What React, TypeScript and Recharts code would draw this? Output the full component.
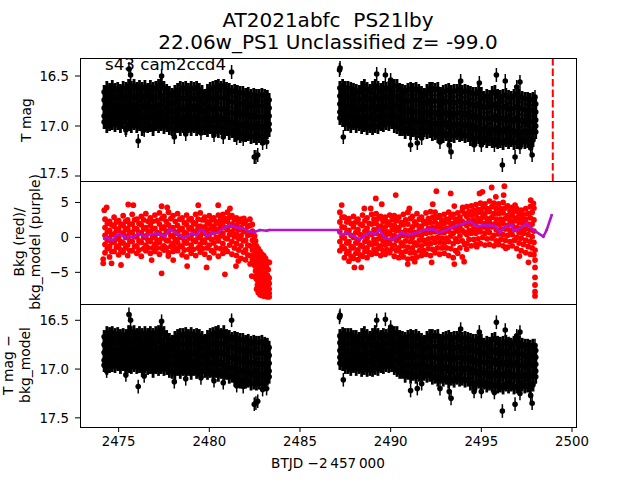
import { ScatterChart, Scatter, XAxis, YAxis, ErrorBar, ReferenceLine } from 'recharts';

const FONT = '"DejaVu Sans", sans-serif';
const PURPLE = '#b512cc';

const timeDomain = [2472.87, 2500.22];
const timeTicks = [2475, 2480, 2485, 2490, 2495, 2500];
const tMagTicks = [16.5, 17, 17.5];
const bkgTicks = [-5, 0, 5];
const peakTime = 2498.94;
const magErr = 0.07;

// each row: time, then the magnitudes seen at that time, brightest first
const tMagRows = [
  [2474.2,16.66,16.74,16.82,16.9,16.96],[2474.35,16.62,16.71,16.8,16.9,17.0],[2474.5,16.64,16.74,16.83,16.92,16.98],
  [2474.65,16.61,16.7,16.79,16.88,16.97],[2474.8,16.64,16.73,16.83,16.92,16.99],[2474.95,16.63,16.71,16.8,16.89,16.97],
  [2475.1,16.65,16.74,16.84,16.93,17.0],[2475.25,16.62,16.7,16.79,16.88,16.96],[2475.4,16.63,16.73,16.83,16.92,17.02],
  [2475.55,16.6,16.7,16.79,16.88,16.98],[2475.7,16.62,16.72,16.82,16.91,17.0],[2475.85,16.6,16.7,16.79,16.88,16.97],
  [2476.0,16.63,16.73,16.83,16.92,17.0],[2476.15,16.61,16.7,16.8,16.89,16.98],[2476.3,16.63,16.73,16.83,16.93,17.03],
  [2476.45,16.61,16.7,16.79,16.89,16.98],[2476.6,16.64,16.73,16.83,16.92,17.0],[2476.75,16.61,16.7,16.8,16.89,16.99],
  [2476.9,16.63,16.73,16.83,16.93,17.03],[2477.05,16.62,16.71,16.8,16.89,16.98],[2477.2,16.6,16.71,16.83,16.92,17.0],
  [2477.35,16.58,16.69,16.79,16.89,16.98],[2477.5,16.62,16.74,16.84,16.93,17.01],[2477.65,16.65,16.74,16.82,16.9,16.99],
  [2477.8,16.67,16.76,16.85,16.94,17.02],[2477.95,16.69,16.77,16.85,16.93,17.03],[2478.1,16.66,16.76,16.86,16.96,17.04],
  [2478.25,16.64,16.73,16.82,16.91,17.0],[2478.4,16.62,16.73,16.84,16.94,17.03],[2478.55,16.63,16.72,16.82,16.91,17.0],
  [2478.7,16.62,16.73,16.84,16.94,17.03],[2478.85,16.64,16.73,16.82,16.91,17.0],[2479.0,16.62,16.73,16.84,16.94,17.03],
  [2479.15,16.63,16.72,16.81,16.91,17.0],[2479.3,16.62,16.73,16.84,16.94,17.03],[2479.45,16.64,16.73,16.82,16.92,17.01],
  [2479.6,16.66,16.76,16.86,16.95,17.02],[2479.75,16.7,16.77,16.85,16.93,17.02],[2479.9,16.65,16.75,16.85,16.95,17.04],
  [2480.05,16.63,16.72,16.82,16.92,17.01],[2480.2,16.62,16.73,16.84,16.95,17.05],[2480.35,16.61,16.71,16.81,16.91,17.01],
  [2480.5,16.6,16.71,16.83,16.95,17.05],[2480.65,16.62,16.72,16.82,16.92,17.02],[2480.8,16.6,16.72,16.84,16.96,17.06],
  [2480.95,16.63,16.73,16.83,16.93,17.03],[2481.1,16.64,16.75,16.87,16.98,17.07],[2481.25,16.66,16.76,16.86,16.96,17.05],
  [2481.4,16.65,16.76,16.88,16.99,17.09],[2481.55,16.66,16.76,16.86,16.97,17.06],[2481.7,16.67,16.78,16.89,17.0,17.1],
  [2481.85,16.67,16.77,16.87,16.98,17.08],[2482.0,16.69,16.8,16.9,17.0,17.09],[2482.15,16.68,16.78,16.88,16.98,17.08],
  [2482.3,16.7,16.8,16.91,17.02,17.11],[2482.45,16.69,16.79,16.89,16.99,17.1],[2482.6,16.7,16.8,16.91,17.02,17.12],
  [2482.75,16.7,16.8,16.9,17.0,17.1],[2482.9,16.69,16.8,16.91,17.02,17.12],[2483.05,16.7,16.8,16.9,17.0,17.1],
  [2483.2,16.71,16.8,16.89,16.98,17.06],[2483.3,16.74,16.82,16.9,16.98,17.04],
  [2487.2,16.62,16.7,16.78,16.86,16.92],[2487.35,16.6,16.69,16.78,16.86,16.94],[2487.5,16.62,16.71,16.81,16.9,16.98],
  [2487.65,16.62,16.71,16.8,16.89,16.98],[2487.8,16.63,16.73,16.83,16.92,17.0],[2487.95,16.64,16.73,16.82,16.91,16.97],
  [2488.1,16.65,16.74,16.84,16.93,17.0],[2488.25,16.66,16.74,16.82,16.91,16.98],[2488.4,16.62,16.73,16.84,16.94,17.01],
  [2488.55,16.6,16.7,16.8,16.9,16.99],[2488.7,16.63,16.73,16.83,16.93,17.02],[2488.85,16.65,16.73,16.82,16.91,17.0],
  [2489.0,16.62,16.73,16.83,16.93,17.02],[2489.15,16.6,16.7,16.8,16.9,17.0],[2489.3,16.62,16.73,16.84,16.93,17.01],
  [2489.45,16.64,16.73,16.81,16.9,16.98],[2489.6,16.62,16.72,16.82,16.91,16.99],[2489.75,16.63,16.71,16.8,16.89,16.97],
  [2489.9,16.62,16.72,16.81,16.9,16.98],[2490.05,16.62,16.7,16.79,16.88,16.96],[2490.2,16.6,16.71,16.81,16.91,17.0],
  [2490.35,16.6,16.7,16.8,16.9,17.01],[2490.5,16.64,16.74,16.84,16.94,17.03],[2490.65,16.65,16.74,16.83,16.93,17.03],
  [2490.8,16.66,16.76,16.86,16.96,17.06],[2490.95,16.64,16.74,16.84,16.94,17.03],[2491.1,16.63,16.75,16.87,16.98,17.07],
  [2491.25,16.64,16.74,16.84,16.94,17.04],[2491.4,16.63,16.74,16.86,16.97,17.07],[2491.55,16.65,16.75,16.85,16.95,17.05],
  [2491.7,16.67,16.77,16.87,16.97,17.07],[2491.85,16.69,16.77,16.86,16.95,17.04],[2492.0,16.65,16.76,16.87,16.97,17.06],
  [2492.15,16.63,16.74,16.85,16.96,17.05],[2492.3,16.63,16.75,16.87,16.98,17.08],[2492.45,16.64,16.75,16.86,16.97,17.07],
  [2492.6,16.63,16.75,16.88,17.0,17.1],[2492.75,16.68,16.78,16.87,16.97,17.07],[2492.9,16.66,16.77,16.88,16.99,17.1],
  [2493.05,16.65,16.75,16.86,16.97,17.08],[2493.2,16.64,16.76,16.89,17.01,17.12],[2493.35,16.66,16.76,16.87,16.98,17.09],
  [2493.5,16.65,16.77,16.89,17.0,17.1],[2493.65,16.65,16.76,16.87,16.98,17.07],[2493.8,16.63,16.75,16.87,16.99,17.09],
  [2493.95,16.66,16.77,16.87,16.98,17.08],[2494.1,16.65,16.77,16.89,17.0,17.1],[2494.25,16.66,16.76,16.87,16.98,17.09],
  [2494.4,16.67,16.79,16.91,17.03,17.13],[2494.55,16.68,16.78,16.89,17.0,17.12],[2494.7,16.68,16.8,16.92,17.03,17.13],
  [2494.85,16.66,16.78,16.9,17.01,17.11],[2495.0,16.68,16.8,16.92,17.04,17.14],[2495.15,16.72,16.82,16.92,17.02,17.12],
  [2495.3,16.7,16.81,16.93,17.05,17.15],[2495.45,16.71,16.81,16.92,17.03,17.13],[2495.6,16.67,16.8,16.93,17.05,17.15],
  [2495.75,16.66,16.78,16.9,17.03,17.14],[2495.9,16.7,16.82,16.94,17.06,17.16],[2496.05,16.71,16.81,16.92,17.04,17.15],
  [2496.2,16.7,16.82,16.94,17.06,17.17],[2496.35,16.69,16.8,16.92,17.03,17.14],[2496.5,16.71,16.83,16.95,17.06,17.16],
  [2496.65,16.72,16.83,16.93,17.04,17.14],[2496.8,16.7,16.82,16.95,17.07,17.17],[2496.95,16.68,16.8,16.92,17.05,17.16],
  [2497.1,16.7,16.82,16.95,17.07,17.16],[2497.25,16.72,16.83,16.94,17.05,17.14],[2497.4,16.73,16.84,16.96,17.07,17.16],
  [2497.55,16.73,16.84,16.94,17.05,17.15],[2497.7,16.74,16.85,16.96,17.07,17.17],[2497.85,16.73,16.84,16.95,17.05,17.14],
  [2498.0,16.78,16.86,16.94,17.0,17.06],
];

const tMagOutliers = [
  [2475.57,16.43],[2475.66,16.49],[2477.37,16.5],[2481.23,16.46],[2474.34,17.0],[2476.08,17.15],[2476.41,17.04],[2475.4,17.04],
  [2478.07,17.11],[2478.7,17.08],[2479.54,17.07],[2480.26,17.09],[2480.77,17.11],[2481.51,17.12],[2481.87,17.13],[2482.48,17.31],
  [2482.57,17.31],[2482.67,17.29],[2483.16,17.16],[2482.94,17.17],[2487.21,16.42],[2487.18,16.44],[2487.39,17.11],[2491.1,17.19],
  [2491.47,17.17],[2491.71,17.12],[2492.72,17.16],[2493.23,17.19],[2493.33,17.26],[2494.6,17.19],[2495.0,17.19],[2495.72,17.19],
  [2496.16,17.39],[2496.86,17.31],[2497.13,17.21],[2497.8,17.29],[2497.72,17.22],[2489.23,16.48],[2489.71,16.49],[2490.0,16.54],
  [2493.86,16.55],[2494.89,16.57],[2495.83,16.49],[2496.32,16.55],[2497.13,16.56],[2496.95,16.61],[2497.96,16.71],
];

const correctedRows = [
  [2474.2,16.67,16.75,16.83,16.91,16.96],[2474.35,16.63,16.72,16.81,16.9,16.99],[2474.5,16.64,16.74,16.83,16.91,16.97],
  [2474.65,16.63,16.71,16.8,16.88,16.96],[2474.8,16.65,16.73,16.82,16.9,16.97],[2474.95,16.64,16.72,16.8,16.88,16.95],
  [2475.1,16.66,16.75,16.84,16.92,16.98],[2475.25,16.65,16.72,16.8,16.88,16.95],[2475.4,16.66,16.75,16.84,16.92,17.0],
  [2475.55,16.62,16.71,16.8,16.88,16.97],[2475.7,16.63,16.73,16.82,16.9,16.98],[2475.85,16.62,16.71,16.8,16.88,16.96],
  [2476.0,16.65,16.74,16.83,16.91,16.98],[2476.15,16.63,16.72,16.81,16.89,16.97],[2476.3,16.65,16.74,16.83,16.92,17.01],
  [2476.45,16.63,16.72,16.8,16.89,16.97],[2476.6,16.65,16.74,16.83,16.91,16.99],[2476.75,16.63,16.72,16.81,16.89,16.98],
  [2476.9,16.65,16.74,16.83,16.92,17.02],[2477.05,16.63,16.72,16.81,16.89,16.98],[2477.2,16.62,16.72,16.83,16.92,17.0],
  [2477.35,16.6,16.7,16.8,16.89,16.98],[2477.5,16.63,16.75,16.85,16.93,17.0],[2477.65,16.67,16.76,16.84,16.91,16.99],
  [2477.8,16.7,16.78,16.86,16.94,17.02],[2477.95,16.72,16.79,16.86,16.94,17.03],[2478.1,16.68,16.77,16.86,16.95,17.04],
  [2478.25,16.66,16.74,16.83,16.91,17.0],[2478.4,16.65,16.75,16.85,16.94,17.03],[2478.55,16.65,16.74,16.83,16.91,17.0],
  [2478.7,16.64,16.75,16.85,16.94,17.03],[2478.85,16.66,16.75,16.83,16.92,17.0],[2479.0,16.64,16.75,16.85,16.95,17.04],
  [2479.15,16.66,16.74,16.83,16.92,17.0],[2479.3,16.65,16.75,16.85,16.94,17.03],[2479.45,16.66,16.75,16.84,16.93,17.01],
  [2479.6,16.68,16.78,16.87,16.95,17.02],[2479.75,16.71,16.79,16.86,16.94,17.02],[2479.9,16.67,16.77,16.86,16.95,17.04],
  [2480.05,16.65,16.74,16.83,16.93,17.02],[2480.2,16.64,16.75,16.85,16.95,17.05],[2480.35,16.63,16.73,16.83,16.92,17.02],
  [2480.5,16.62,16.73,16.84,16.95,17.06],[2480.65,16.65,16.74,16.83,16.93,17.03],[2480.8,16.62,16.74,16.85,16.97,17.07],
  [2480.95,16.66,16.75,16.85,16.95,17.04],[2481.1,16.67,16.77,16.88,16.99,17.08],[2481.25,16.69,16.78,16.88,16.98,17.07],
  [2481.4,16.68,16.79,16.9,17.01,17.11],[2481.55,16.69,16.79,16.89,17.0,17.09],[2481.7,16.7,16.81,16.92,17.03,17.13],
  [2481.85,16.7,16.8,16.9,17.01,17.11],[2482.0,16.72,16.83,16.93,17.03,17.13],[2482.15,16.71,16.81,16.92,17.02,17.12],
  [2482.3,16.73,16.83,16.94,17.05,17.15],[2482.45,16.72,16.82,16.93,17.03,17.14],[2482.6,16.73,16.84,16.95,17.06,17.15],
  [2482.75,16.73,16.84,16.94,17.04,17.14],[2482.9,16.72,16.83,16.95,17.06,17.15],[2483.05,16.74,16.84,16.94,17.04,17.14],
  [2483.2,16.75,16.84,16.93,17.02,17.1],[2483.3,16.78,16.86,16.94,17.02,17.08],
  [2487.2,16.66,16.73,16.81,16.88,16.94],[2487.35,16.64,16.72,16.8,16.88,16.95],[2487.5,16.65,16.74,16.83,16.91,16.98],
  [2487.65,16.65,16.73,16.82,16.9,16.98],[2487.8,16.65,16.74,16.84,16.92,17.0],[2487.95,16.67,16.75,16.83,16.91,16.97],
  [2488.1,16.67,16.76,16.85,16.93,17.0],[2488.25,16.69,16.76,16.84,16.91,16.98],[2488.4,16.65,16.75,16.85,16.94,17.01],
  [2488.55,16.63,16.73,16.82,16.91,16.99],[2488.7,16.66,16.75,16.84,16.93,17.01],[2488.85,16.68,16.75,16.83,16.91,17.0],
  [2489.0,16.65,16.75,16.84,16.93,17.01],[2489.15,16.62,16.72,16.81,16.9,16.99],[2489.3,16.65,16.75,16.84,16.92,17.0],
  [2489.45,16.67,16.75,16.82,16.89,16.97],[2489.6,16.65,16.74,16.83,16.91,16.98],[2489.75,16.66,16.73,16.81,16.88,16.96],
  [2489.9,16.65,16.74,16.82,16.9,16.97],[2490.05,16.64,16.72,16.8,16.88,16.96],[2490.2,16.63,16.73,16.82,16.91,16.99],
  [2490.35,16.63,16.72,16.81,16.91,17.01],[2490.5,16.67,16.76,16.85,16.94,17.03],[2490.65,16.68,16.76,16.84,16.93,17.03],
  [2490.8,16.69,16.78,16.87,16.97,17.07],[2490.95,16.67,16.76,16.85,16.95,17.04],[2491.1,16.66,16.77,16.88,16.98,17.08],
  [2491.25,16.67,16.76,16.85,16.95,17.05],[2491.4,16.66,16.76,16.87,16.98,17.08],[2491.55,16.68,16.77,16.86,16.96,17.06],
  [2491.7,16.7,16.79,16.88,16.98,17.08],[2491.85,16.72,16.79,16.87,16.96,17.05],[2492.0,16.68,16.78,16.88,16.98,17.07],
  [2492.15,16.66,16.76,16.86,16.97,17.06],[2492.3,16.66,16.77,16.88,16.99,17.09],[2492.45,16.67,16.77,16.87,16.98,17.08],
  [2492.6,16.66,16.77,16.89,17.01,17.11],[2492.75,16.71,16.8,16.88,16.98,17.08],[2492.9,16.69,16.79,16.89,17.0,17.11],
  [2493.05,16.68,16.77,16.87,16.98,17.09],[2493.2,16.67,16.78,16.9,17.02,17.13],[2493.35,16.69,16.78,16.88,16.99,17.1],
  [2493.5,16.68,16.79,16.9,17.01,17.12],[2493.65,16.68,16.78,16.88,16.99,17.09],[2493.8,16.66,16.77,16.88,17.0,17.11],
  [2493.95,16.69,16.79,16.88,16.99,17.1],[2494.1,16.68,16.79,16.9,17.01,17.12],[2494.25,16.69,16.78,16.88,16.99,17.11],
  [2494.4,16.7,16.81,16.92,17.04,17.15],[2494.55,16.71,16.8,16.9,17.01,17.14],[2494.7,16.71,16.82,16.93,17.04,17.15],
  [2494.85,16.69,16.8,16.91,17.02,17.13],[2495.0,16.71,16.82,16.93,17.05,17.16],[2495.15,16.75,16.84,16.93,17.03,17.14],
  [2495.3,16.73,16.83,16.94,17.06,17.17],[2495.45,16.74,16.83,16.93,17.04,17.15],[2495.6,16.7,16.82,16.94,17.06,17.17],
  [2495.75,16.69,16.8,16.91,17.04,17.16],[2495.9,16.73,16.84,16.95,17.07,17.18],[2496.05,16.74,16.83,16.93,17.05,17.17],
  [2496.2,16.73,16.84,16.95,17.07,17.19],[2496.35,16.72,16.82,16.93,17.04,17.16],[2496.5,16.74,16.85,16.96,17.07,17.18],
  [2496.65,16.75,16.85,16.94,17.05,17.16],[2496.8,16.73,16.84,16.96,17.08,17.19],[2496.95,16.71,16.82,16.93,17.06,17.18],
  [2497.1,16.73,16.84,16.96,17.08,17.18],[2497.25,16.75,16.85,16.95,17.06,17.16],[2497.4,16.76,16.86,16.97,17.08,17.18],
  [2497.55,16.76,16.86,16.95,17.06,17.17],[2497.7,16.77,16.87,16.97,17.08,17.19],[2497.85,16.76,16.86,16.96,17.06,17.16],
  [2498.0,16.81,16.88,16.95,17.02,17.08],
];

const correctedOutliers = [
  [2475.57,16.44],[2475.66,16.5],[2477.37,16.51],[2481.23,16.5],[2474.34,17.02],[2476.08,17.18],[2476.41,17.07],[2475.4,17.06],
  [2478.07,17.13],[2478.7,17.1],[2479.54,17.09],[2480.26,17.12],[2480.77,17.14],[2481.51,17.17],[2481.87,17.18],[2482.48,17.36],
  [2482.57,17.35],[2482.67,17.33],[2483.16,17.2],[2482.94,17.21],[2487.21,16.45],[2487.18,16.47],[2487.39,17.11],[2491.1,17.22],
  [2491.47,17.2],[2491.71,17.15],[2492.72,17.2],[2493.23,17.23],[2493.33,17.3],[2494.6,17.23],[2495.0,17.23],[2495.72,17.24],
  [2496.16,17.43],[2496.86,17.36],[2497.13,17.25],[2497.8,17.35],[2497.72,17.27],[2489.23,16.5],[2489.71,16.49],[2490.0,16.57],
  [2493.86,16.59],[2494.89,16.62],[2495.83,16.52],[2496.32,16.6],[2497.13,16.62],[2496.95,16.66],[2497.96,16.76],
];

const bkgRows = [
  [2474.25,2.6,1.4,0.3,-1.0,-2.2],[2474.5,2.3,1.0,-0.1,-1.3,-2.8],[2474.75,2.9,1.6,0.5,-0.7,-2.0],[2475.0,2.4,1.2,0.0,-1.2,-2.5],
  [2475.25,3.1,1.7,0.6,-0.8,-2.1],[2475.5,2.5,1.3,0.2,-1.1,-2.6],[2475.75,3.3,1.9,0.7,-0.6,-1.9],[2476.0,2.6,1.2,0.1,-1.2,-2.3],
  [2476.25,3.0,1.8,0.6,-0.7,-2.7],[2476.5,3.4,1.4,0.2,-1.1,-1.9],[2476.75,2.8,1.7,0.7,-0.6,-2.3],[2477.0,3.2,1.3,0.1,-1.0,-2.0],
  [2477.25,3.5,1.9,0.6,-0.7,-2.4],[2477.5,3.0,1.5,0.3,-1.2,-1.8],[2477.75,3.6,1.8,0.8,-0.5,-2.2],[2478.0,3.1,1.4,0.2,-0.9,-2.0],
  [2478.25,3.4,1.7,0.6,-0.7,-1.9],[2478.5,2.8,1.3,0.1,-1.2,-2.5],[2478.75,3.2,1.8,0.5,-0.8,-2.8],[2479.0,2.7,1.4,0.3,-1.1,-2.3],
  [2479.25,3.3,1.9,0.7,-0.6,-2.6],[2479.5,3.5,1.6,0.2,-1.0,-2.1],[2479.75,2.9,1.5,0.6,-0.7,-2.4],[2480.0,3.1,1.9,0.4,-1.1,-2.9],
  [2480.25,2.8,1.6,0.7,-0.8,-2.2],[2480.5,3.2,2.0,0.9,-0.5,-2.7],[2480.75,3.3,2.1,0.6,-0.9,-2.3],[2481.0,3.6,2.3,1.1,-0.2,-2.0],
  [2481.25,3.1,1.9,0.8,-0.6,-2.4],[2481.5,2.8,1.7,0.5,-0.9,-2.6],[2481.75,2.6,1.4,0.2,-1.2,-3.0],[2482.0,2.3,1.0,-0.4,-1.8,-3.2],
  [2482.25,1.7,0.4,-1.2,-2.6,-3.8],[2482.5,0.2,-1.0,-2.5,-4.0,-5.6],[2482.6,-1.2,-2.6,-4.4,-6.0,-7.4],[2482.7,-1.6,-3.2,-5.0,-6.6,-7.9],
  [2482.8,-2.0,-3.8,-5.4,-7.0,-8.2],[2482.9,-2.4,-4.0,-5.8,-7.2,-8.3],[2483.0,-2.6,-4.4,-6.0,-7.4,-8.4],[2483.1,-3.0,-4.8,-6.3,-7.6,-8.4],
  [2483.2,-3.5,-5.4,-6.7,-7.8,-8.5],[2483.3,-5.8,-6.6,-7.4,-8.0,-8.5],
  [2487.2,3.6,2.2,0.8,-0.6,-1.9],[2487.45,2.9,1.4,-0.1,-1.6,-2.9],[2487.7,2.7,1.0,-0.6,-2.0,-3.4],[2487.95,3.0,1.5,0.0,-1.5,-3.0],
  [2488.2,2.6,1.1,-0.4,-1.8,-3.2],[2488.45,3.2,1.7,0.2,-1.3,-2.7],[2488.7,2.8,1.3,-0.1,-1.5,-2.9],[2488.95,3.3,1.9,0.4,-1.0,-2.4],
  [2489.2,3.4,2.0,0.6,-0.9,-2.3],[2489.45,3.0,1.6,0.2,-1.2,-2.6],[2489.7,2.9,1.5,0.2,-1.1,-2.4],[2489.95,3.2,1.8,0.5,-0.9,-2.2],
  [2490.2,3.1,1.7,0.3,-1.1,-2.7],[2490.45,2.9,1.4,0.0,-1.5,-2.9],[2490.7,3.3,1.8,0.3,-1.2,-2.8],[2490.95,3.6,1.9,0.2,-1.4,-3.1],
  [2491.2,3.0,1.5,0.0,-1.5,-3.0],[2491.45,3.4,1.8,0.4,-1.1,-2.8],[2491.7,2.9,1.6,0.3,-1.2,-2.6],[2491.95,3.5,2.0,0.6,-0.9,-2.4],
  [2492.2,3.7,2.1,0.7,-0.9,-2.6],[2492.45,3.6,2.2,0.8,-0.7,-2.2],[2492.7,3.1,1.9,0.7,-0.7,-2.4],[2492.95,3.3,2.0,0.7,-0.8,-2.3],
  [2493.2,3.6,2.2,0.9,-0.6,-2.6],[2493.45,3.3,2.0,0.6,-0.9,-2.9],[2493.7,3.5,2.2,0.9,-0.6,-2.3],[2493.95,3.8,2.3,1.0,-0.5,-2.8],
  [2494.2,4.4,3.0,1.7,0.4,-0.9],[2494.45,4.5,3.2,1.9,0.6,-1.2],[2494.7,4.7,3.3,2.0,0.6,-1.0],[2494.95,4.9,3.6,2.3,0.8,-0.9],
  [2495.2,4.8,3.4,2.0,0.6,-1.1],[2495.45,5.2,3.7,2.2,0.7,-1.0],[2495.7,4.9,3.4,1.9,0.3,-1.2],[2495.95,4.8,3.4,1.9,0.5,-1.0],
  [2496.2,5.0,3.5,2.0,0.4,-1.2],[2496.45,4.5,3.1,1.7,0.3,-1.4],[2496.7,4.3,3.1,1.8,0.4,-1.2],[2496.95,4.1,2.8,1.4,0.0,-1.6],
  [2497.2,3.9,2.7,1.3,-0.1,-1.9],[2497.45,4.1,2.6,1.2,-0.4,-2.2],[2497.7,4.4,2.8,1.1,-0.6,-2.4],[2497.9,4.2,2.5,0.9,-0.7,-2.5],
];

// points that lie between the rows above
const bkgInnerRows = [
  [2474.38,2.0,0.8,-0.4,-1.6],[2474.62,1.8,0.4,-0.7,-2.0],[2474.88,2.2,1.0,-0.2,-1.4],[2475.12,1.9,0.6,-0.6,-1.8],
  [2475.38,2.3,1.1,0.0,-1.5],[2475.62,1.9,0.7,-0.5,-1.9],[2475.88,2.5,1.3,0.1,-1.3],[2476.12,2.0,0.7,-0.5,-1.8],
  [2476.38,2.5,1.2,0.0,-1.6],[2476.62,2.3,0.9,-0.4,-1.5],[2476.88,2.3,1.2,0.0,-1.5],[2477.12,2.4,0.7,-0.4,-1.5],
  [2477.38,2.7,1.3,-0.1,-1.5],[2477.62,2.3,0.9,-0.4,-1.5],[2477.88,2.7,1.3,0.2,-1.3],[2478.12,2.3,0.8,-0.3,-1.5],
  [2478.38,2.6,1.1,0.0,-1.3],[2478.62,2.1,0.7,-0.5,-1.8],[2478.88,2.5,1.2,-0.1,-1.7],[2479.12,2.1,0.9,-0.4,-1.7],
  [2479.38,2.6,1.3,0.0,-1.5],[2479.62,2.5,0.9,-0.4,-1.6],[2479.88,2.2,1.1,0.0,-1.5],[2480.12,2.5,1.2,-0.3,-1.9],
  [2480.38,2.2,1.1,0.0,-1.5],[2480.62,2.6,1.5,0.2,-1.6],[2480.88,2.7,1.4,-0.1,-1.6],[2481.12,2.9,1.7,0.4,-1.1],
  [2481.38,2.5,1.3,0.1,-1.5],[2481.62,2.2,1.1,-0.2,-1.8],[2481.88,2.0,0.8,-0.5,-2.1],[2482.12,1.6,0.3,-1.1,-2.5],
  [2482.38,0.9,-0.4,-1.8,-3.2],[2482.55,-0.5,-1.8,-3.4,-4.8],[2482.65,-1.9,-3.4,-5.2,-6.8],[2482.75,-2.4,-4.2,-5.8,-7.3],
  [2482.85,-2.9,-4.6,-6.2,-7.6],[2482.95,-3.2,-5.0,-6.6,-7.8],[2483.05,-3.6,-5.2,-6.8,-8.0],[2483.15,-4.2,-5.7,-7.0,-8.1],
  [2483.25,-4.6,-6.0,-7.2,-8.2],
  [2487.32,2.9,1.5,0.1,-1.3],[2487.58,2.2,0.7,-0.8,-2.3],[2487.82,2.0,0.3,-1.3,-2.7],[2488.08,2.2,0.7,-0.8,-2.3],
  [2488.32,1.9,0.4,-1.1,-2.5],[2488.58,2.4,0.9,-0.6,-2.0],[2488.82,2.0,0.6,-0.8,-2.2],[2489.08,2.6,1.1,-0.3,-1.7],
  [2489.32,2.7,1.3,-0.2,-1.6],[2489.58,2.3,0.9,-0.5,-1.9],[2489.82,2.2,0.8,-0.5,-1.8],[2490.08,2.5,1.1,-0.2,-1.6],
  [2490.32,2.4,1.0,-0.4,-1.9],[2490.58,2.1,0.7,-0.8,-2.2],[2490.82,2.5,1.0,-0.5,-2.0],[2491.08,2.7,1.0,-0.6,-2.2],
  [2491.32,2.2,0.7,-0.8,-2.2],[2491.58,2.6,1.1,-0.4,-1.9],[2491.82,2.3,0.9,-0.4,-1.9],[2492.08,2.7,1.3,-0.2,-1.6],
  [2492.32,2.9,1.4,-0.1,-1.7],[2492.58,2.9,1.5,0.0,-1.5],[2492.82,2.5,1.3,-0.1,-1.5],[2493.08,2.6,1.3,-0.1,-1.5],
  [2493.32,2.9,1.5,0.2,-1.6],[2493.58,2.6,1.3,-0.2,-1.9],[2493.82,2.9,1.5,0.2,-1.5],[2494.08,3.4,2.0,0.7,-1.0],
  [2494.32,3.7,2.4,1.0,-0.3],[2494.58,3.9,2.5,1.2,-0.3],[2494.82,4.0,2.7,1.3,-0.2],[2495.08,4.2,2.9,1.5,0.0],
  [2495.32,4.1,2.7,1.3,-0.2],[2495.58,4.4,2.9,1.5,-0.1],[2495.82,4.1,2.6,1.1,-0.5],[2496.08,4.1,2.6,1.2,-0.3],
  [2496.32,4.2,2.7,1.2,-0.4],[2496.58,3.8,2.4,1.0,-0.6],[2496.82,3.7,2.4,1.1,-0.4],[2497.08,3.4,2.1,0.7,-0.8],
  [2497.32,3.3,2.0,0.6,-1.0],[2497.58,3.4,1.9,0.4,-1.3],[2497.8,3.6,1.9,0.1,-1.5],
];

const bkgOutliers = [
  [2474.34,4.28],[2474.21,3.9],[2475.53,4.71],[2475.81,4.61],[2477.37,4.47],[2477.68,4.28],[2479.39,4.61],[2480.49,4.61],[2481.14,4.14],
  [2474.15,-3.1],[2474.15,-3.71],[2474.61,-3.71],[2475.13,-3.95],[2476.82,-3.24],[2477.74,-2.67],[2478.01,-3.24],[2477.37,-5.14],
  [2478.78,-4.1],[2479.85,-4.29],[2480.86,-5.29],[2481.47,-4.1],[2481.6,-3.39],[2482.34,-5.53],[2483.31,-3.57],[2482.24,2.61],
  [2481.91,2.71],[2482.37,1.85],[2487.3,4.62],[2488.55,4.14],[2488.9,4.14],[2489.18,5.57],[2489.51,4.76],[2490.28,6.05],[2491.03,4.14],
  [2492.32,4.76],[2492.52,6.62],[2493.31,6.29],[2493.51,4.48],[2493.97,4.29],[2495.57,7.14],[2496.27,7.33],[2496.23,6.05],[2495.06,6.52],
  [2494.9,6.29],[2495.8,5.81],[2496.86,4.62],[2497.72,5.33],[2497.87,4.86],[2488.0,-4.29],[2488.38,-4.29],[2490.94,-3.81],[2491.33,-3.48],
  [2492.26,-3.57],[2493.51,-3.81],[2494.05,-3.48],[2494.19,-1.67],[2497.1,-2.67],[2497.6,-3.57],[2497.96,-1.81],[2497.96,-3.24],
  [2497.96,-4.29],[2497.96,-5.71],[2497.96,-6.81],[2497.96,-7.76],[2497.96,-8.38],[2496.35,-1.57],[2494.75,-1.33],
];

const modelTimes = [
  2474.2,2474.34,2474.52,2474.7,2474.89,2475.07,2475.35,2475.62,2475.81,2476.08,2476.45,2476.73,2477.1,2477.56,2477.83,2478.2,2478.56,
  2478.84,2479.03,2479.3,2479.48,2479.67,2479.85,2480.13,2480.49,2480.77,2481.14,2481.51,2481.87,2482.24,2482.52,2482.79,2483.16,2483.3,
  2487.11,2487.3,2487.58,2487.94,2488.31,2488.58,2488.86,2489.14,2489.37,2489.69,2490.15,2490.61,2490.98,2491.44,2491.8,2492.35,2492.63,
  2493.09,2493.46,2494.01,2494.38,2494.75,2495.3,2495.76,2496.03,2496.31,2496.68,2496.77,2497.13,2497.5,2497.87,2498.42,2498.6,2498.88,
];
const modelValues = [
  -0.19,0,-0.29,-0.38,0.33,0.48,0,0.1,0,0.57,0.1,0.43,0.57,0.19,1.14,0.57,0,
  0.19,0.57,0.33,1.05,0.95,0.19,0.57,0.67,1.29,1.76,1.43,1.29,0.81,0.81,1.05,0.95,1.05,
  1.05,0.33,0.67,0.19,-0.29,0.33,0.67,0.48,1.14,-0.14,-0.29,0.67,0.33,0.67,1.05,1.14,0.67,
  1.05,1.52,2.0,2.24,1.62,1.76,1.62,0.67,1.52,1.76,0.95,1.29,2.0,1.05,0.1,1.05,3.19,
];

const rowPoints = (rows: number[][]) => rows.flatMap(([t, ...ys]) => ys.map((y) => ({ t, y, err: magErr })));
const pairPoints = (pairs: number[][]) => pairs.map(([t, y]) => ({ t, y, err: magErr }));
const bkgData = [...rowPoints(bkgRows), ...rowPoints(bkgInnerRows), ...pairPoints(bkgOutliers)];
const modelData = modelTimes.map((t, i) => ({ t, y: modelValues[i] }));

const dot = (r: number, fill: string) => (props: any) => <circle cx={props.cx} cy={props.cy} r={r} fill={fill} />;

const tickStyle = { fontSize: 13.3, fontFamily: FONT, fill: '#000' };
const tickLine = { stroke: '#000', strokeWidth: 1 };
const minus = (v: number) => String(v).replace('-', '\u2212');
const LEFT = 80;
const RIGHT_GAP = 64;

const MagPanel = ({ rows, outliers, domain, height, xAxis }: any) => (
  <ScatterChart width={640} height={height} margin={{ top: 0, right: RIGHT_GAP, bottom: 0, left: 0 }}>
    <XAxis
      type="number"
      dataKey="t"
      domain={timeDomain}
      ticks={timeTicks}
      allowDataOverflow
      hide={!xAxis}
      height={53}
      tick={tickStyle}
      tickLine={tickLine}
      axisLine={false}
      tickSize={5}
      tickMargin={5}
    />
    <YAxis
      type="number"
      dataKey="y"
      reversed
      domain={domain}
      ticks={tMagTicks}
      allowDataOverflow
      width={LEFT}
      tick={tickStyle}
      tickLine={tickLine}
      axisLine={false}
      tickSize={5}
      tickMargin={6}
      tickFormatter={(v: number) => v.toFixed(1)}
    />
    {!xAxis && <ReferenceLine x={peakTime} stroke="#ff0000" strokeWidth={2} strokeDasharray="7.5 3" />}
    <Scatter data={rowPoints(rows)} isAnimationActive={false} shape={dot(2.8, '#000')}>
      <ErrorBar dataKey="err" direction="y" width={0} stroke="#000" strokeWidth={2.8} isAnimationActive={false} />
    </Scatter>
    <Scatter data={pairPoints(outliers)} isAnimationActive={false} shape={dot(2.8, '#000')}>
      <ErrorBar dataKey="err" direction="y" width={0} stroke="#000" strokeWidth={1.5} isAnimationActive={false} />
    </Scatter>
  </ScatterChart>
);

const BkgPanel = () => (
  <ScatterChart width={640} height={123} margin={{ top: 0, right: RIGHT_GAP, bottom: 0, left: 0 }}>
    <XAxis type="number" dataKey="t" domain={timeDomain} allowDataOverflow hide />
    <YAxis
      type="number"
      dataKey="y"
      domain={[-9.53, 8.07]}
      ticks={bkgTicks}
      allowDataOverflow
      width={LEFT}
      tick={tickStyle}
      tickLine={tickLine}
      axisLine={false}
      tickSize={5}
      tickMargin={6}
      tickFormatter={minus}
    />
    <Scatter data={bkgData} isAnimationActive={false} shape={dot(2.9, '#ff0000')} />
    <Scatter
      data={modelData}
      isAnimationActive={false}
      line={{ stroke: PURPLE, strokeWidth: 2.6 }}
      shape={dot(1.4, PURPLE)}
    />
  </ScatterChart>
);

const place = (top: number): React.CSSProperties => ({ position: 'absolute', left: 0, top });

export default function App() {
  return (
    <div style={{ position: 'absolute', left: 0, top: 0, width: 640, height: 480, background: '#fff', overflow: 'hidden' }}>
      <div style={place(58)}>
        <MagPanel rows={tMagRows} outliers={tMagOutliers} domain={[16.32, 17.55]} height={123} />
      </div>
      <div style={place(181)}>
        <BkgPanel />
      </div>
      <div style={place(304)}>
        <MagPanel rows={correctedRows} outliers={correctedOutliers} domain={[16.333, 17.594]} height={176} xAxis />
      </div>
      <svg width={640} height={480} style={{ position: 'absolute', left: 0, top: 0, pointerEvents: 'none' }} fontFamily={FONT}>
        <rect x={80.5} y={58.5} width={496} height={123} fill="none" stroke="#000" />
        <rect x={80.5} y={181.5} width={496} height={123} fill="none" stroke="#000" />
        <rect x={80.5} y={304.5} width={496} height={123} fill="none" stroke="#000" />
        <text x={328} y={27} textAnchor="middle" fontSize={20}>AT2021abfc{'\u00a0\u00a0'}PS21lby</text>
        <text x={328} y={49} textAnchor="middle" fontSize={20}>22.06w_PS1 Unclassified z= -99.0</text>
        <text x={105} y={70} fontSize={16.7}>s43 cam2ccd4</text>
        <text x={328} y={468} textAnchor="middle" fontSize={13.6}>BTJD {'\u2212'}2{'\u2009'}457{'\u2009'}000</text>
        <text transform="translate(31,120) rotate(-90)" textAnchor="middle" fontSize={13.9}>T mag</text>
        <text transform="translate(24,242) rotate(-90)" textAnchor="middle" fontSize={13.9}>Bkg (red)/</text>
        <text transform="translate(40,242) rotate(-90)" textAnchor="middle" fontSize={13.9}>bkg_model (purple)</text>
        <text transform="translate(13,365) rotate(-90)" textAnchor="middle" fontSize={13.9}>T mag {'\u2212'}</text>
        <text transform="translate(30,365) rotate(-90)" textAnchor="middle" fontSize={13.9}>bkg_model</text>
      </svg>
    </div>
  );
}
